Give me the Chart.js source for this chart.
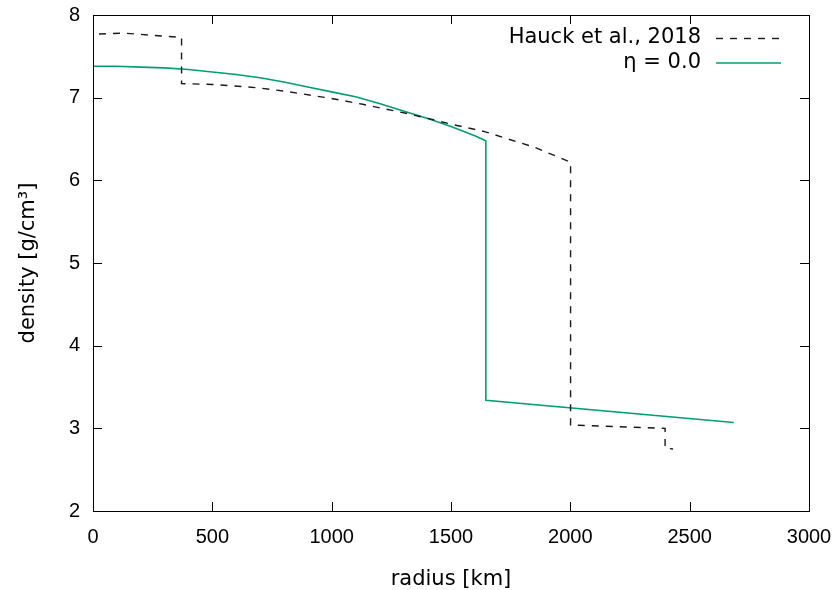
<!DOCTYPE html>
<html>
<head>
<meta charset="utf-8">
<script src="https://cdn.jsdelivr.net/npm/chart.js@4/dist/chart.umd.min.js"></script>
<style>
html,body{margin:0;padding:0;background:#fff;}
#wrap{width:837px;height:590px;}
</style>
</head>
<body>
<div id="wrap"><canvas id="c" width="837" height="590"></canvas></div>
<script>
// Hauck et al., 2018 (dashed)
const hauckRadius  = [25, 130, 367, 371, 371, 500, 690, 800, 1000, 1130, 1330, 1500, 1640, 1850, 2001, 2001, 2200, 2397, 2397, 2430];
const hauckDensity = [7.77, 7.78, 7.73, 7.73, 7.17, 7.16, 7.12, 7.08, 6.99, 6.92, 6.80, 6.68, 6.59, 6.40, 6.22, 3.04, 3.02, 3.00, 2.76, 2.75];
// eta = 0.0 (green)
const etaRadius  = [0, 100, 200, 300, 400, 500, 600, 700, 800, 900, 1000, 1100, 1200, 1300, 1400, 1500, 1600, 1646, 1646, 2685];
const etaDensity = [7.38, 7.38, 7.37, 7.36, 7.34, 7.31, 7.28, 7.24, 7.19, 7.13, 7.07, 7.01, 6.93, 6.84, 6.75, 6.65, 6.54, 6.48, 3.34, 3.07];
const seriesLabels = ['Hauck et al., 2018', 'η = 0.0'];
const xTicks = [0, 500, 1000, 1500, 2000, 2500, 3000];
const yTicks = [2, 3, 4, 5, 6, 7, 8];

const toXY = (xs, ys) => xs.map((x, i) => ({x: x, y: ys[i]}));
const noPad = s => { s.paddingLeft = 0; s.paddingRight = 0; s.paddingTop = 0; s.paddingBottom = 0; };

const frame = {
  id: 'frame',
  afterDraw(chart) {
    const {ctx, chartArea: a, scales} = chart;
    ctx.save();
    ctx.strokeStyle = '#000';
    ctx.lineWidth = 1;
    ctx.strokeRect(Math.round(a.left) + 0.5, Math.round(a.top) + 0.5, Math.round(a.right - a.left), Math.round(a.bottom - a.top));
    const L = 9;
    ctx.beginPath();
    xTicks.forEach(v => {
      const px = Math.round(scales.x.getPixelForValue(v)) + 0.5;
      ctx.moveTo(px, a.bottom); ctx.lineTo(px, a.bottom - L);
      ctx.moveTo(px, a.top); ctx.lineTo(px, a.top + L);
    });
    yTicks.forEach(v => {
      const py = Math.round(scales.y.getPixelForValue(v)) + 0.5;
      ctx.moveTo(a.left, py); ctx.lineTo(a.left + L, py);
      ctx.moveTo(a.right, py); ctx.lineTo(a.right - L, py);
    });
    ctx.stroke();
    // legend
    ctx.font = '21px "DejaVu Sans"';
    ctx.fillStyle = '#000';
    ctx.textAlign = 'right';
    ctx.textBaseline = 'middle';
    chart.data.datasets.forEach((ds, i) => {
      const y = 38 + i * 24.5;
      ctx.fillText(ds.label, 701, y);
      ctx.beginPath();
      ctx.strokeStyle = ds.borderColor;
      ctx.lineWidth = ds.borderWidth;
      ctx.setLineDash(ds.borderDash || []);
      ctx.moveTo(716, y + 0.5); ctx.lineTo(781, y + 0.5);
      ctx.stroke();
      ctx.setLineDash([]);
    });
    ctx.restore();
  }
};

new Chart(document.getElementById('c'), {
  type: 'scatter',
  data: {
    datasets: [
      {label: seriesLabels[0], data: toXY(hauckRadius, hauckDensity), showLine: true, borderColor: '#1a1a1a', borderWidth: 1.4, borderDash: [7, 7], pointRadius: 0, fill: false, tension: 0},
      {label: seriesLabels[1], data: toXY(etaRadius, etaDensity), showLine: true, borderColor: '#009e73', borderWidth: 1.6, pointRadius: 0, fill: false, tension: 0}
    ]
  },
  options: {
    responsive: false,
    animation: false,
    layout: {padding: {top: 15, right: 28, left: 0, bottom: 0}},
    plugins: {legend: {display: false}, tooltip: {enabled: false}},
    scales: {
      x: {
        type: 'linear', min: 0, max: 3000,
        afterBuildTicks: s => { s.ticks = xTicks.map(v => ({value: v})); },
        afterFit: s => { s.height = 79; noPad(s); },
        grid: {display: false, drawTicks: false},
        border: {display: false},
        ticks: {padding: 14, color: '#000', font: {family: 'Liberation Sans', size: 20}, maxRotation: 0, callback: v => String(v)},
        title: {display: true, text: 'radius [km]', color: '#000', font: {family: 'DejaVu Sans', size: 21}, padding: {top: 0, bottom: -2}}
      },
      y: {
        type: 'linear', min: 2, max: 8,
        afterBuildTicks: s => { s.ticks = yTicks.map(v => ({value: v})); },
        afterFit: s => { s.width = 93; noPad(s); },
        grid: {display: false, drawTicks: false},
        border: {display: false},
        ticks: {padding: 13, color: '#000', font: {family: 'Liberation Sans', size: 20}, callback: v => String(v)},
        title: {display: true, text: 'density [g/cm³]', color: '#000', font: {family: 'DejaVu Sans', size: 21}, padding: {top: 16, bottom: 0}}
      }
    }
  },
  plugins: [frame]
});
</script>
</body>
</html>
